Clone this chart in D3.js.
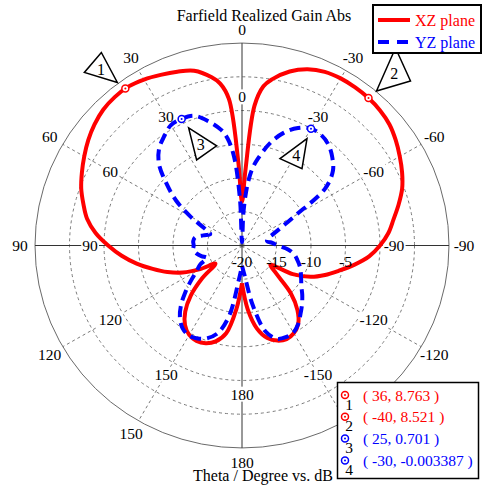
<!DOCTYPE html>
<html><head><meta charset="utf-8">
<script src="https://cdn.jsdelivr.net/npm/d3@7"></script>
<style>html,body{margin:0;padding:0;background:#fff;}svg{display:block;}</style>
</head><body>
<svg id="chart" width="483" height="488"></svg>
<script>
// ---------------- DATA ----------------
const thetaDeg = [-180,-175,-170,-165,-160,-155,-150,-145,-140,-135,-130,-125,-120,-115,-110,-105,-100,-95,-90,-85,-80,-75,-70,-65,-60,-55,-50,-45,-40,-35,-30,-25,-20,-15,-10,-7.5,-5,-2.5,0,2.5,5,7.5,10,15,20,25,30,35,40,45,50,55,60,65,70,75,80,85,90,95,100,105,110,115,120,125,130,135,140,145,150,155,160,165,170,175,180];
const xzGain = [-14.4,-10.5,-7.5,-5.8,-5.0,-4.7,-5.0,-5.8,-7.5,-10,-13.5,-15.0,-11.5,-9,-7.2,-5.5,-3.5,-1.5,0.0,1.3,2.3,3.5,4.7,5.6,6.4,7.2,7.9,8.3,8.52,8.6,8.6,8.4,7.8,6.7,5.0,3.8,0.8,-9,-13.5,-7.5,1.8,4.2,5.3,6.8,7.4,7.9,8.4,8.74,8.7,8.45,7.9,7.2,6.4,5.6,4.8,3.8,2.8,1.3,-0.6,-2.5,-4.5,-6.6,-8.5,-10.5,-13,-15.3,-12.5,-9.5,-7.2,-5.6,-4.7,-4.4,-4.6,-5.3,-6.8,-10.5,-14.4];
const yzGain = [-17,-15.5,-11,-6.8,-5.3,-5.0,-5.1,-5.8,-6.8,-7.7,-8.6,-9.5,-10.1,-10.6,-11.1,-11.7,-12.3,-13.3,-14.8,-15.6,-16.3,-16.2,-15.3,-13.8,-11,-5.3,-2.8,-1.5,-0.5,0.0,0.0,-0.8,-2.2,-4.3,-7,-8.5,-11,-15,-19.5,-13,-6.8,-4,-2.6,-0.9,0.45,0.70,0.6,-0.3,-1.3,-3,-5.7,-8.3,-11.3,-14,-15.1,-14.2,-13.1,-12.9,-13,-12.9,-13.3,-13.9,-14.6,-13.3,-12.4,-11,-9.3,-7.5,-6,-5,-4.6,-4.8,-5.4,-6.6,-9.5,-15,-17];
const seriesNames = ["XZ plane","YZ plane"];
const seriesColors = ["#ff0000","#0000ff"];
const markerTheta = [36,-40,25,-30];
const markerValue = [8.763,8.521,0.701,-0.003387];
const markerSeries = [0,0,1,1];
const markerText = ["( 36, 8.763 )","( -40, 8.521 )","( 25, 0.701 )","( -30, -0.003387 )"];
const angleTicks = [0,30,60,90,120,150,180,-150,-120,-90,-60,-30];
const ringTicks = [-15,-10,-5,0,5];
const ringLabels = [-20,-15,-10,-5];
const rMin = -20, rMax = 10;
const titleText = "Farfield Realized Gain Abs";
const xLabelText = "Theta / Degree vs. dB";

// ---------------- LAYOUT ----------------
const svg = d3.select("#chart");
const cx = 242, cy = 245.5, R = 207, ky = 0.978;
const font = "'Liberation Serif','Times New Roman',serif";
const fs = 15.5;
const r = d3.scaleLinear().domain([rMin, rMax]).range([0, R]);
const toRad = d => d * Math.PI / 180;
function pos(th, rad) { return [cx - rad * Math.sin(toRad(th)), cy - rad * ky * Math.cos(toRad(th))]; }
function pt(th, v) { return pos(th, r(v)); }

const grid = svg.append("g");
grid.selectAll("ellipse.ring").data(ringTicks).enter().append("ellipse")
  .attr("cx", cx).attr("cy", cy).attr("rx", d => r(d)).attr("ry", d => r(d) * ky)
  .attr("fill", "none").attr("stroke", "#7a7a7a").attr("stroke-width", 1).attr("stroke-dasharray", "3,3");
grid.append("ellipse").attr("cx", cx).attr("cy", cy).attr("rx", r(rMax)).attr("ry", r(rMax) * ky)
  .attr("fill", "none").attr("stroke", "#6a6a6a").attr("stroke-width", 1);
grid.selectAll("line.spoke").data(angleTicks.filter(a => a % 90 !== 0)).enter().append("line")
  .attr("x1", cx).attr("y1", cy)
  .attr("x2", d => pt(d, rMax)[0]).attr("y2", d => pt(d, rMax)[1])
  .attr("stroke", "#7a7a7a").attr("stroke-width", 1).attr("stroke-dasharray", "3,3");
[0, 90].forEach(a => {
  const p1 = pt(a, rMax), p2 = pt(a + 180, rMax);
  grid.append("line").attr("x1", p1[0]).attr("y1", p1[1]).attr("x2", p2[0]).attr("y2", p2[1])
    .attr("stroke", "#333").attr("stroke-width", 1);
});

// inner angle labels with white background
const innerR = 152;
const inner = svg.append("g");
angleTicks.forEach(a => {
  const p = pos(a, innerR);
  const t = inner.append("text").attr("x", p[0]).attr("y", p[1])
    .attr("text-anchor", "middle").attr("dominant-baseline", "central")
    .attr("font-family", font).attr("font-size", fs).attr("fill", "#000").text(a);
  const b = t.node().getBBox();
  inner.insert("rect", "text").attr("x", b.x - 1).attr("y", b.y + 1).attr("width", b.width + 2).attr("height", b.height - 2).attr("fill", "#fff");
});

// curves
const line = d3.line().x(d => d[0]).y(d => d[1]).curve(d3.curveCatmullRom.alpha(0.5));
const seriesData = [xzGain, yzGain];
seriesData.forEach((vals, i) => {
  const pts = thetaDeg.map((t, j) => pt(t, vals[j]));
  svg.append("path").attr("d", line(pts)).attr("fill", "none")
    .attr("stroke", seriesColors[i]).attr("stroke-width", 4)
    .attr("stroke-dasharray", i === 1 ? "11,6" : null)
    .attr("stroke-linejoin", "round");
});

// outer angle labels
const outerR = 222;
angleTicks.forEach(a => {
  const p = pos(a, outerR);
  svg.append("text").attr("x", p[0]).attr("y", p[1] + (a === 0 ? 1.5 : 0))
    .attr("text-anchor", "middle").attr("dominant-baseline", "central")
    .attr("font-family", font).attr("font-size", fs).text(a);
});

// ring labels
ringLabels.forEach(v => {
  svg.append("text").attr("x", cx + r(v)).attr("y", cy + 16)
    .attr("text-anchor", "middle").attr("dominant-baseline", "central")
    .attr("font-family", font).attr("font-size", fs).text(v);
});

// markers
function drawMarker(g, x, y, color) {
  g.append("circle").attr("cx", x).attr("cy", y).attr("r", 3.5).attr("fill", "#fff").attr("stroke", color).attr("stroke-width", 1.5);
  g.append("circle").attr("cx", x).attr("cy", y).attr("r", 1).attr("fill", color);
}
const mg = svg.append("g");
markerTheta.forEach((t, i) => {
  const p = pt(t, markerValue[i]);
  drawMarker(mg, p[0], p[1], seriesColors[markerSeries[i]]);
});

// callout triangles: vertex offsets relative to marker
const tri = [
  [[-8,-6],[-41,-16],[-24,-36]],
  [[8,-7],[27,-50],[42,-17]],
  [[7,9],[35,27],[15,41]],
  [[-4,10],[-31,30],[-9,40]]
];
markerTheta.forEach((t, i) => {
  const p = pt(t, markerValue[i]);
  const v = tri[i].map(o => [p[0] + o[0], p[1] + o[1]]);
  svg.append("path").attr("d", "M" + v.map(q => q.join(",")).join("L") + "Z")
    .attr("fill", "#fff").attr("stroke", "#000").attr("stroke-width", 1.5).attr("stroke-linejoin", "miter");
  const c = [(v[0][0] + v[1][0] + v[2][0]) / 3, (v[0][1] + v[1][1] + v[2][1]) / 3];
  svg.append("text").attr("x", c[0]).attr("y", c[1]).attr("text-anchor", "middle").attr("dominant-baseline", "central")
    .attr("font-family", font).attr("font-size", 16).text(i + 1);
});

// title & x label
svg.append("text").attr("x", 264).attr("y", 21).attr("text-anchor", "middle")
  .attr("font-family", font).attr("font-size", 16).text(titleText);
svg.append("text").attr("x", 263).attr("y", 481).attr("text-anchor", "middle")
  .attr("font-family", font).attr("font-size", 16).text(xLabelText);

// series legend
const lg = svg.append("g");
lg.append("rect").attr("x", 373).attr("y", 5).attr("width", 108).attr("height", 48)
  .attr("fill", "#fff").attr("stroke", "#000").attr("stroke-width", 2);
seriesNames.forEach((n, i) => {
  const y = 20 + i * 22;
  lg.append("line").attr("x1", 378).attr("x2", 410).attr("y1", y).attr("y2", y)
    .attr("stroke", seriesColors[i]).attr("stroke-width", 4).attr("stroke-dasharray", i === 1 ? "11,8" : null);
  lg.append("text").attr("x", 415).attr("y", y).attr("dominant-baseline", "central")
    .attr("font-family", font).attr("font-size", 16).attr("fill", seriesColors[i]).text(n);
});

// marker legend
const ml = svg.append("g");
ml.append("rect").attr("x", 337.5).attr("y", 382.5).attr("width", 141).attr("height", 96)
  .attr("fill", "#fff").attr("stroke", "#000").attr("stroke-width", 1.5);
markerText.forEach((s, i) => {
  const y = 395 + i * 21.8;
  const col = seriesColors[markerSeries[i]];
  drawMarker(ml, 345, y, col);
  ml.append("text").attr("x", 349).attr("y", y + 9).attr("text-anchor", "middle").attr("dominant-baseline", "central")
    .attr("font-family", font).attr("font-size", fs).text(i + 1);
  ml.append("text").attr("x", 363).attr("y", y).attr("dominant-baseline", "central")
    .attr("font-family", font).attr("font-size", fs).attr("fill", col).text(s);
});
</script>
</body></html>
